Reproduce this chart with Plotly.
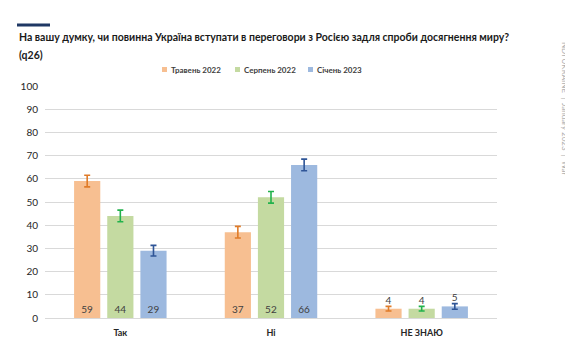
import plotly.graph_objects as go

categories = ["Так", "Ні", "НЕ ЗНАЮ"]
series_names = ["Травень 2022", "Серпень 2022", "Січень 2023"]
may_2022 = [59, 37, 4]
aug_2022 = [44, 52, 4]
jan_2023 = [29, 66, 5]
may_err = [2.5, 2.5, 1.0]
aug_err = [2.5, 2.5, 1.0]
jan_err = [2.3, 2.5, 1.2]
y_ticks = [0, 10, 20, 30, 40, 50, 60, 70, 80, 90, 100]
title_lines = ["На вашу думку, чи повинна Україна вступати в переговори з Росією задля спроби досягнення миру?", "(q26)"]
watermark = "NDI UKRAINE  |  January 2023  |  War"

bar_colors = ["#F7BF91", "#C4DAA1", "#9DB9DF"]
err_colors = ["#E07B28", "#22B24C", "#2F5597"]
FONT = "Lato, Open Sans, sans-serif"

# page body has an 8px margin; figure is sized/placed accordingly
W, H = 565, 349
L, R, T, B = 37, 489, 78, 310
PW, PH = R - L, B - T
legend_x = [154, 227, 300]   # left edge of each legend swatch (figure px)
legend_y = 61.5

def px(x):
    return (x - L) / PW

def py(y):
    return (B - y) / PH

fig = go.Figure()
for name, vals, errs, bc, ec in zip(series_names, [may_2022, aug_2022, jan_2023],
                                    [may_err, aug_err, jan_err], bar_colors, err_colors):
    fig.add_trace(go.Bar(
        x=categories, y=vals, name=name,
        marker=dict(color=bc, line=dict(width=0)),
        error_y=dict(type="data", array=errs, visible=True, color=ec, thickness=1.6, width=3),
        text=[str(v) for v in vals],
        textposition=["inside" if v > 10 else "outside" for v in vals],
        insidetextanchor="start",
        textangle=0,
        textfont=dict(size=10, color="#404040", family=FONT),
        cliponaxis=False,
        showlegend=False,
    ))

fig.update_layout(
    width=W, height=H,
    margin=dict(l=L, r=W - R, t=T, b=H - B, autoexpand=False),
    paper_bgcolor="white", plot_bgcolor="white",
    barmode="group", bargap=0.34, bargroupgap=0.21,
    font=dict(family=FONT, color="#262626"),
    showlegend=False,
)

# legend (swatch + label)
for name, bc, lx in zip(series_names, bar_colors, legend_x):
    fig.add_shape(type="rect", xref="paper", yref="paper",
                  x0=px(lx), x1=px(lx + 5), y0=py(legend_y + 2.5), y1=py(legend_y - 2.5),
                  fillcolor=bc, line=dict(width=0))
    fig.add_annotation(text="<b>" + name + "</b>", xref="paper", yref="paper",
                       x=px(lx + 7), y=py(legend_y), xanchor="left", yanchor="middle",
                       showarrow=False, font=dict(size=8, color="#404040", family=FONT))

for line, yc in zip(title_lines, [29, 47]):
    fig.add_annotation(text="<b>" + line + "</b>", xref="paper", yref="paper",
                       x=px(9), y=py(yc), xanchor="left", yanchor="middle", showarrow=False,
                       font=dict(size=10.5, color="#1a1a1a", family=FONT))
fig.update_xaxes(
    showgrid=False, showline=False, ticks="",
    tickfont=dict(size=9, color="#262626", family=FONT),
    tickprefix="<b>", ticksuffix="</b>", ticklabelstandoff=8,
)
fig.update_yaxes(
    range=[0, 100], tickvals=y_ticks, showgrid=True, gridcolor="#D9D9D9", gridwidth=1,
    zeroline=True, zerolinecolor="#D9D9D9", zerolinewidth=1,
    tickfont=dict(size=10, color="#262626", family=FONT), ticks="", ticklabelstandoff=6,
)
fig.add_shape(type="line", xref="paper", yref="paper",
              x0=px(9), x1=px(42), y0=py(17), y1=py(17),
              line=dict(color="#1F3864", width=3))
fig.add_annotation(text=watermark, xref="paper", yref="paper",
                   x=px(557), y=py(100), xanchor="center", yanchor="middle",
                   textangle=90, showarrow=False,
                   font=dict(size=8, color="#B0B0B0", family=FONT))

fig.write_html("out.html")
